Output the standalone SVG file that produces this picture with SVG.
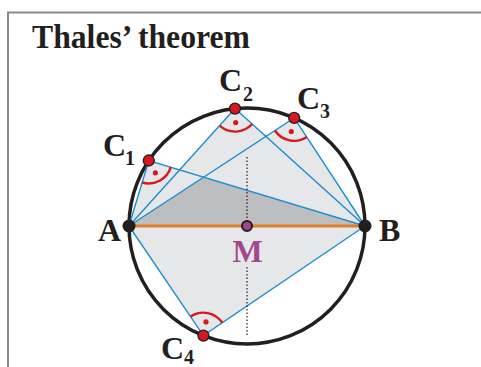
<svg xmlns="http://www.w3.org/2000/svg" width="481" height="367" viewBox="0 0 481 367">
<style>
.lbl{font-family:"Liberation Serif","Times New Roman",serif;font-weight:bold;fill:#231f20}
.big{font-size:32px}
.sub{font-size:20px}
.tri{fill:#e6e7e8;stroke:none}
.blue{stroke:#1c8ecf;stroke-width:1.4;fill:none}
.arc{stroke:#d7191f;stroke-width:2.4;fill:none}
.dot{fill:#d7191f}
.cpt{fill:#d7191f;stroke:#231f20;stroke-width:1.3}
.bpt{fill:#231f20}
</style>
<rect width="481" height="367" fill="#ffffff"/>
<path d="M8,367 V12.5 H481" fill="none" stroke="#8a8a8a" stroke-width="2"/>
<text class="lbl" x="32" y="48" font-size="33" textLength="218" lengthAdjust="spacingAndGlyphs">Thales’ theorem</text>

<g id="fills">
<polygon class="tri" points="129,226 148.8,160.5 365,226"/>
<polygon class="tri" points="129,226 235,108.6 365,226"/>
<polygon class="tri" points="129,226 294.2,117.9 365,226"/>
<polygon class="tri" points="129,226 203.4,335.6 365,226"/>
<polygon points="129,226 204.2,177.1 365,226" fill="#bcbec0"/>
</g>

<g id="circle">
<circle cx="247" cy="226" r="118" fill="none" stroke="#231f20" stroke-width="3.5"/>
</g>

<g id="connectors">
<path class="blue" d="M129,226 L148.8,160.5 L365,226"/>
<path class="blue" d="M129,226 L235,108.6 L365,226"/>
<path class="blue" d="M129,226 L294.2,117.9 L365,226"/>
<path class="blue" d="M129,226 L203.4,335.6 L365,226"/>
<line x1="129" y1="226" x2="365" y2="226" stroke="#e07f27" stroke-width="3"/>
<path d="M247,157 V226 M247,267 V336" stroke="#231f20" stroke-width="1.2" stroke-dasharray="1.5,2" fill="none"/>
</g>

<g id="right-angles">
<path class="arc" d="M142.1,182.5 A23,23 0 0 0 170.8,167.2"/>
<circle class="dot" cx="155.4" cy="172.8" r="2.6"/>
<path class="arc" d="M219.6,125.7 A23,23 0 0 0 252.1,124.0"/>
<circle class="dot" cx="235.7" cy="122.6" r="2.6"/>
<path class="arc" d="M274.95,130.5 A23,23 0 0 0 306.8,137.1"/>
<circle class="dot" cx="291.3" cy="131.6" r="2.6"/>
<path class="arc" d="M190.5,316.6 A23,23 0 0 1 222.4,322.7"/>
<circle class="dot" cx="206.0" cy="321.9" r="2.6"/>
</g>

<g id="A"><circle class="bpt" cx="129" cy="226" r="6.5"/><text class="lbl big" x="98" y="241">A</text></g>
<g id="B"><circle class="bpt" cx="365" cy="226" r="6.5"/><text class="lbl big" x="379" y="241">B</text></g>
<g id="M"><circle cx="247" cy="226" r="5" fill="#a0468c" stroke="#231f20" stroke-width="2"/><text class="lbl big" x="247.5" y="262" text-anchor="middle" style="fill:#a3478f">M</text></g>
<g id="C1"><circle class="cpt" cx="148.8" cy="160.5" r="5.5"/><text class="lbl big" x="103" y="156">C</text><text class="lbl sub" x="125" y="165">1</text></g>
<g id="C2"><circle class="cpt" cx="235" cy="108.6" r="5.5"/><text class="lbl big" x="219" y="91">C</text><text class="lbl sub" x="243" y="101">2</text></g>
<g id="C3"><circle class="cpt" cx="294.2" cy="117.9" r="5.5"/><text class="lbl big" x="297" y="109">C</text><text class="lbl sub" x="320" y="118">3</text></g>
<g id="C4"><circle class="cpt" cx="203.4" cy="335.6" r="5.5"/><text class="lbl big" x="161" y="359">C</text><text class="lbl sub" x="184" y="364">4</text></g>
</svg>
